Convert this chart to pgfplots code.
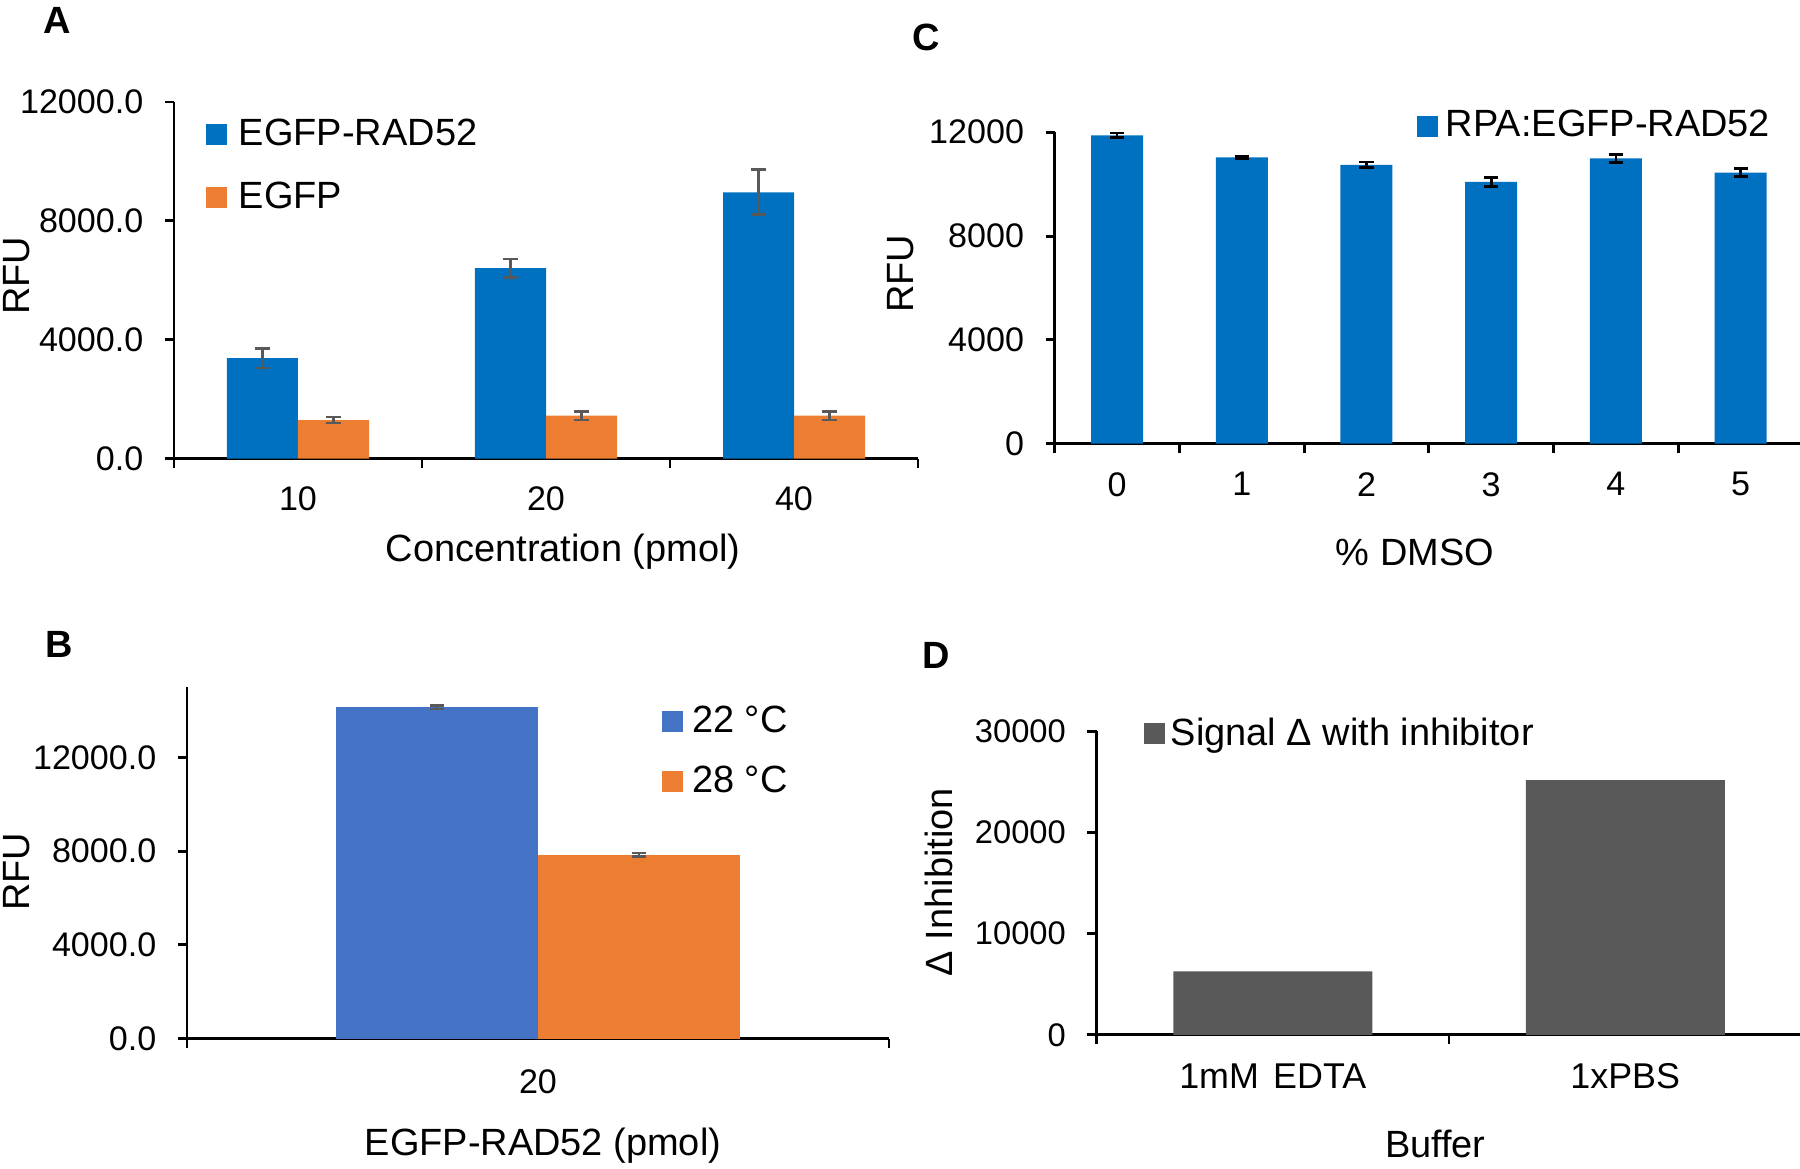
\documentclass[border=0pt]{standalone}
\usepackage{pgfplots}
\pgfplotsset{compat=1.18}
\usepackage{fontspec}
\setmainfont{Liberation Sans}

\definecolor{xlblue}{HTML}{0070C0}
\definecolor{xlblueb}{HTML}{4472C4}
\definecolor{xlorange}{HTML}{ED7D31}
\definecolor{xlgrey}{HTML}{595959}

\newcommand{\tickfont}{\fontsize{9.7}{11}\selectfont}
\newcommand{\labfont}{\fontsize{10.8}{12}\selectfont}

\pgfplotsset{
  panel/.style={
    scale only axis, anchor=origin,
    axis x line*=bottom, axis y line*=left,
    axis line style={-, line width=0.85pt, black},
    every outer x axis line/.append style={-},
    every outer y axis line/.append style={-},
    tick align=outside,
    major tick length=2.6pt, minor tick length=2.6pt,
    tick style={line width=0.85pt, black},
    major x tick style={draw=none},
    ymin=0, enlargelimits=false, scaled y ticks=false,
    ticklabel style={font=\tickfont},
    /pgf/number format/assume math mode=true,
    label style={font=\labfont},
    xlabel style={anchor=center}, ylabel style={anchor=center},
    yticklabel style={xshift=-2.6pt},
    xticklabel style={yshift=-2pt},
    legend cell align=left,
    legend style={draw=none, fill=none, inner sep=0pt, outer sep=0pt,
      anchor=west, font=\labfont, nodes={inner sep=0pt}},
  },
  sq/.style={legend image code/.code={\fill[##1,/tikz/.cd,draw=none] (0cm,-0.105cm) rectangle (0.21cm,0.105cm);}},
  ebar/.style={error bars/y dir=both, error bars/y explicit,
    error bars/error bar style={line width=0.8pt, #1},
    error bars/error mark options={rotate=90, mark size=2pt, line width=0.8pt, #1}},
}

\begin{document}
\begin{tikzpicture}
\path[use as bounding box] (0,0) rectangle (18,11.68);

% panel A
\begin{axis}[panel, at={(1.74cm,7.095cm)}, width=7.44cm, height=3.565cm,
  ybar=0pt, bar width=0.71cm,
  xmin=0, xmax=3, ymax=12000,
  xtick={0.5,1.5,2.5}, xticklabels={10,20,40}, minor xtick={0,1,2,3},
  ytick={0,4000,8000,12000}, yticklabels={0.0,4000.0,8000.0,12000.0},
  xlabel={Concentration (pmol)}, ylabel={RFU},
  xlabel style={at={(axis description cs:0.523,-0.262)}},
  ylabel style={at={(axis description cs:-0.2117,0.512)}},
  legend style={at={(axis description cs:0.043,0.82)}, row sep=8.8pt, column sep=3.4pt},
]
\addplot[fill=xlblue, draw=none, sq, ebar=xlgrey] coordinates {(0.5,3377) +- (0,330) (1.5,6405) +- (0,310) (2.5,8960) +- (0,760)};
\addplot[fill=xlorange, draw=none, sq, ebar=xlgrey] coordinates {(0.5,1296) +- (0,100) (1.5,1445) +- (0,150) (2.5,1445) +- (0,150)};
\legend{EGFP-RAD52, EGFP}
\end{axis}

% panel B
\begin{axis}[panel, at={(1.87cm,1.293cm)}, width=7.02cm, height=3.516cm,
  ybar=0pt, bar width=2.02cm,
  xmin=0, xmax=1, ymax=15000,
  xtick={0.5}, xticklabels={20}, minor xtick={0,1},
  xticklabel style={yshift=-0.7pt},
  ytick={0,4000,8000,12000}, yticklabels={0.0,4000.0,8000.0,12000.0},
  xlabel={EGFP-RAD52 (pmol)}, ylabel={RFU},
  xlabel style={at={(axis description cs:0.507,-0.305)}},
  ylabel style={at={(axis description cs:-0.243,0.475)}},
  legend style={at={(axis description cs:0.6766,0.8166)}, row sep=8pt, column sep=2.6pt},
]
\addplot[fill=xlblueb, draw=none, sq, ebar=xlgrey] coordinates {(0.5,14132) +- (0,70)};
\addplot[fill=xlorange, draw=none, sq, ebar=xlgrey] coordinates {(0.5,7850) +- (0,70)};
\legend{22 °C, 28 °C}
\end{axis}

% panel C
\begin{axis}[panel, at={(10.547cm,7.243cm)}, width=7.483cm, height=3.115cm,
  ybar, bar width=0.52cm,
  xmin=0, xmax=6, ymax=12000,
  xtick={0.5,1.5,2.5,3.5,4.5,5.5}, xticklabels={0,1,2,3,4,5}, minor xtick={0,1,2,3,4,5,6},
  ytick={0,4000,8000,12000}, yticklabels={0,4000,8000,12000},
  xlabel={\% DMSO}, ylabel={RFU},
  xlabel style={at={(axis description cs:0.4815,-0.348)}},
  ylabel style={at={(axis description cs:-0.206,0.545)}},
  legend style={at={(axis description cs:0.4835,1.019)}, column sep=2.4pt},
]
\addplot[fill=xlblue, draw=none, sq, ebar=black] coordinates {(0.5,11880) +- (0,90) (1.5,11030) +- (0,50) (2.5,10745) +- (0,110) (3.5,10088) +- (0,180) (4.5,10987) +- (0,160) (5.5,10445) +- (0,160)};
\legend{RPA:EGFP-RAD52}
\end{axis}

% panel D
\begin{axis}[panel, at={(10.965cm,1.331cm)}, width=7.05cm, height=3.038cm,
  ybar, bar width=1.99cm,
  xmin=0, xmax=2, ymax=30000,
  xtick={0.5,1.5}, xticklabels={1mM\hspace{0.4em}EDTA,1xPBS}, minor xtick={0,1,2},
  yticklabel style={font=\fontsize{9.3}{11}\selectfont},
  xticklabel style={font=\fontsize{10.2}{12}\selectfont},
  ytick={0,10000,20000,30000}, yticklabels={0,10000,20000,30000},
  xlabel={Buffer}, ylabel={Δ Inhibition},
  xlabel style={at={(axis description cs:0.4806,-0.359)}},
  ylabel style={at={(axis description cs:-0.2234,0.503)}},
  legend style={at={(axis description cs:0.0667,0.9905)}, column sep=1.8pt},
]
\addplot[fill=xlgrey, draw=none, sq] coordinates {(0.5,6283) (1.5,25167)};
\legend{Signal Δ with inhibitor}
\end{axis}

\node[font=\bfseries\fontsize{10.8}{12}\selectfont] at (0.576,11.48) {A};
\node[font=\bfseries\fontsize{10.8}{12}\selectfont] at (9.26,11.31) {C};
\node[font=\bfseries\fontsize{10.8}{12}\selectfont] at (0.59,5.235) {B};
\node[font=\bfseries\fontsize{10.8}{12}\selectfont] at (9.36,5.13) {D};
\end{tikzpicture}
\end{document}
